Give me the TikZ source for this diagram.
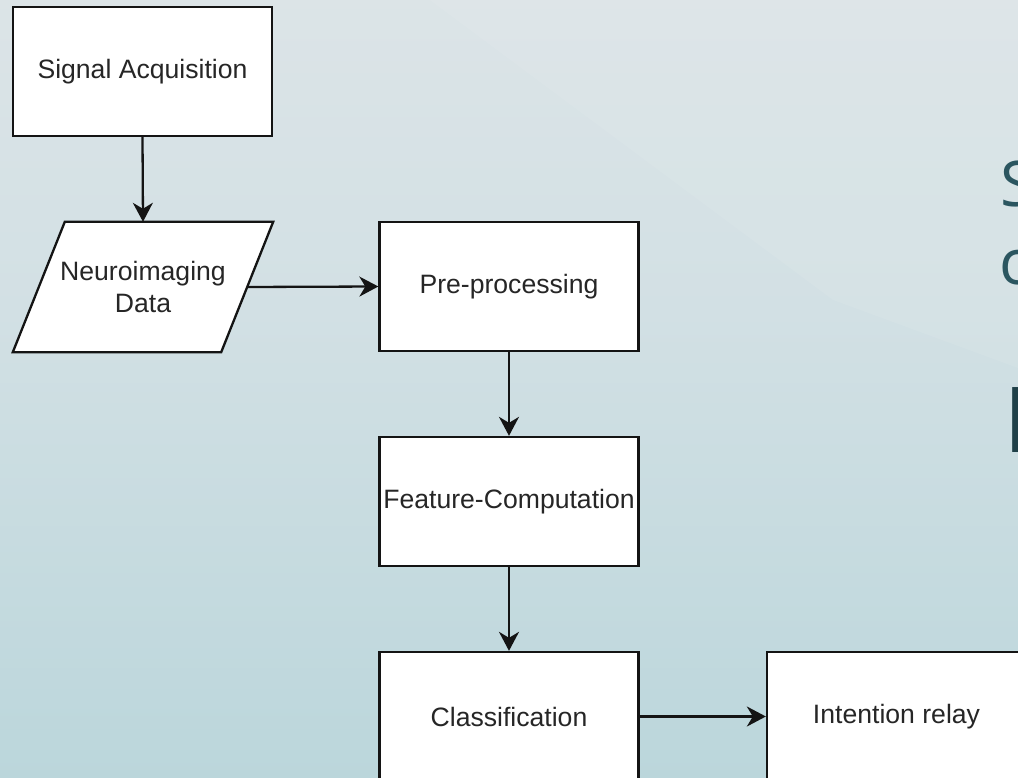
\documentclass[tikz,border=0pt]{standalone}
\usepackage{fontspec}
\setmainfont{Liberation Sans}
\newfontfamily\slidefont{Open Sans}
\usetikzlibrary{arrows.meta,backgrounds,positioning}

\definecolor{bgtop}{HTML}{E8E9EB}
\definecolor{bgmid}{HTML}{D2E0E4}
\definecolor{bgbot}{HTML}{A8CED4}
\definecolor{edge}{HTML}{141414}
\definecolor{slideteal}{HTML}{2B5660}
\definecolor{slidedark}{HTML}{1F4048}

\pgfdeclareverticalshading{pagebg}{100bp}{%
  color(0bp)=(bgbot); color(55bp)=(bgmid); color(100bp)=(bgtop)}

\tikzset{
  flowbox/.style={draw=edge, line width=2.3pt, fill=white, rectangle,
    minimum width=259pt, minimum height=129pt, inner sep=0pt,
    font=\fontsize{26.6}{32}\selectfont, text=black!85, align=center},
  databox/.style={rectangle, minimum width=208pt, minimum height=130pt,
    inner sep=0pt, font=\fontsize{26.6}{32}\selectfont, text=black!85, align=center},
  flowarrow/.style={draw=edge, line width=2.3pt,
    -{Stealth[length=19pt, width=20pt, inset=6pt]}},
  slideletter/.style={inner sep=0pt, anchor=base west, text=slideteal,
    font=\slidefont\fontsize{63}{78}\selectfont},
}

\begin{document}
\begin{tikzpicture}[x=1pt, y=-1pt]
  \useasboundingbox (0,0) rectangle (1018,778);
  \clip (0,0) rectangle (1018,778);

  % page background with a faint diagonal sheen
  \begin{scope}[on background layer]
    \fill[shading=pagebg] (0,0) rectangle (1018,778);
    \fill[white, opacity=0.07] (430,0) -- (833,300) -- (1018,368) -- (1018,0) -- cycle;
  \end{scope}

  % partly visible slide title on the right
  \node[slideletter] (slideS) at (1000,207) {S};
  \node[slideletter] (slidec) at (999,285) {c};
  \node[inner sep=0pt, anchor=base west, text=slidedark,
        font=\slidefont\bfseries\fontsize{91}{100}\selectfont] (slideI) at (1004,452) {I};

  % flowchart steps
  \node[flowbox] (sa)   at (142.5,71.5)  {Signal Acquisition};
  \node[databox] (nd)   at (143,287)     {Neuroimaging\\Data};
  \node[flowbox] (pre)  at (509,286.5)   {Pre-processing};
  \node[flowbox] (feat) at (509,501.5)   {Feature-Computation};
  \node[flowbox] (cls)  at (509,716.5)   {Classification};
  \node[flowbox] (rel)  at (896.5,716.5) {Intention relay};

  % data parallelogram behind its label
  \begin{scope}[on background layer]
    \draw[draw=edge, line width=2.3pt, fill=white]
      ([xshift=26pt]nd.north west) -- ([xshift=26pt]nd.north east)
      -- ([xshift=-26pt]nd.south east) -- ([xshift=-26pt]nd.south west) -- cycle;
  \end{scope}

  % connectors
  \draw[flowarrow] (sa.south) -- (nd.north);
  \draw[flowarrow] (nd.east) -- (pre.west);
  \draw[flowarrow] (pre.south) -- (feat.north);
  \draw[flowarrow] (feat.south) -- (cls.north);
  \draw[flowarrow] (cls.east) -- (rel.west);
\end{tikzpicture}
\end{document}
